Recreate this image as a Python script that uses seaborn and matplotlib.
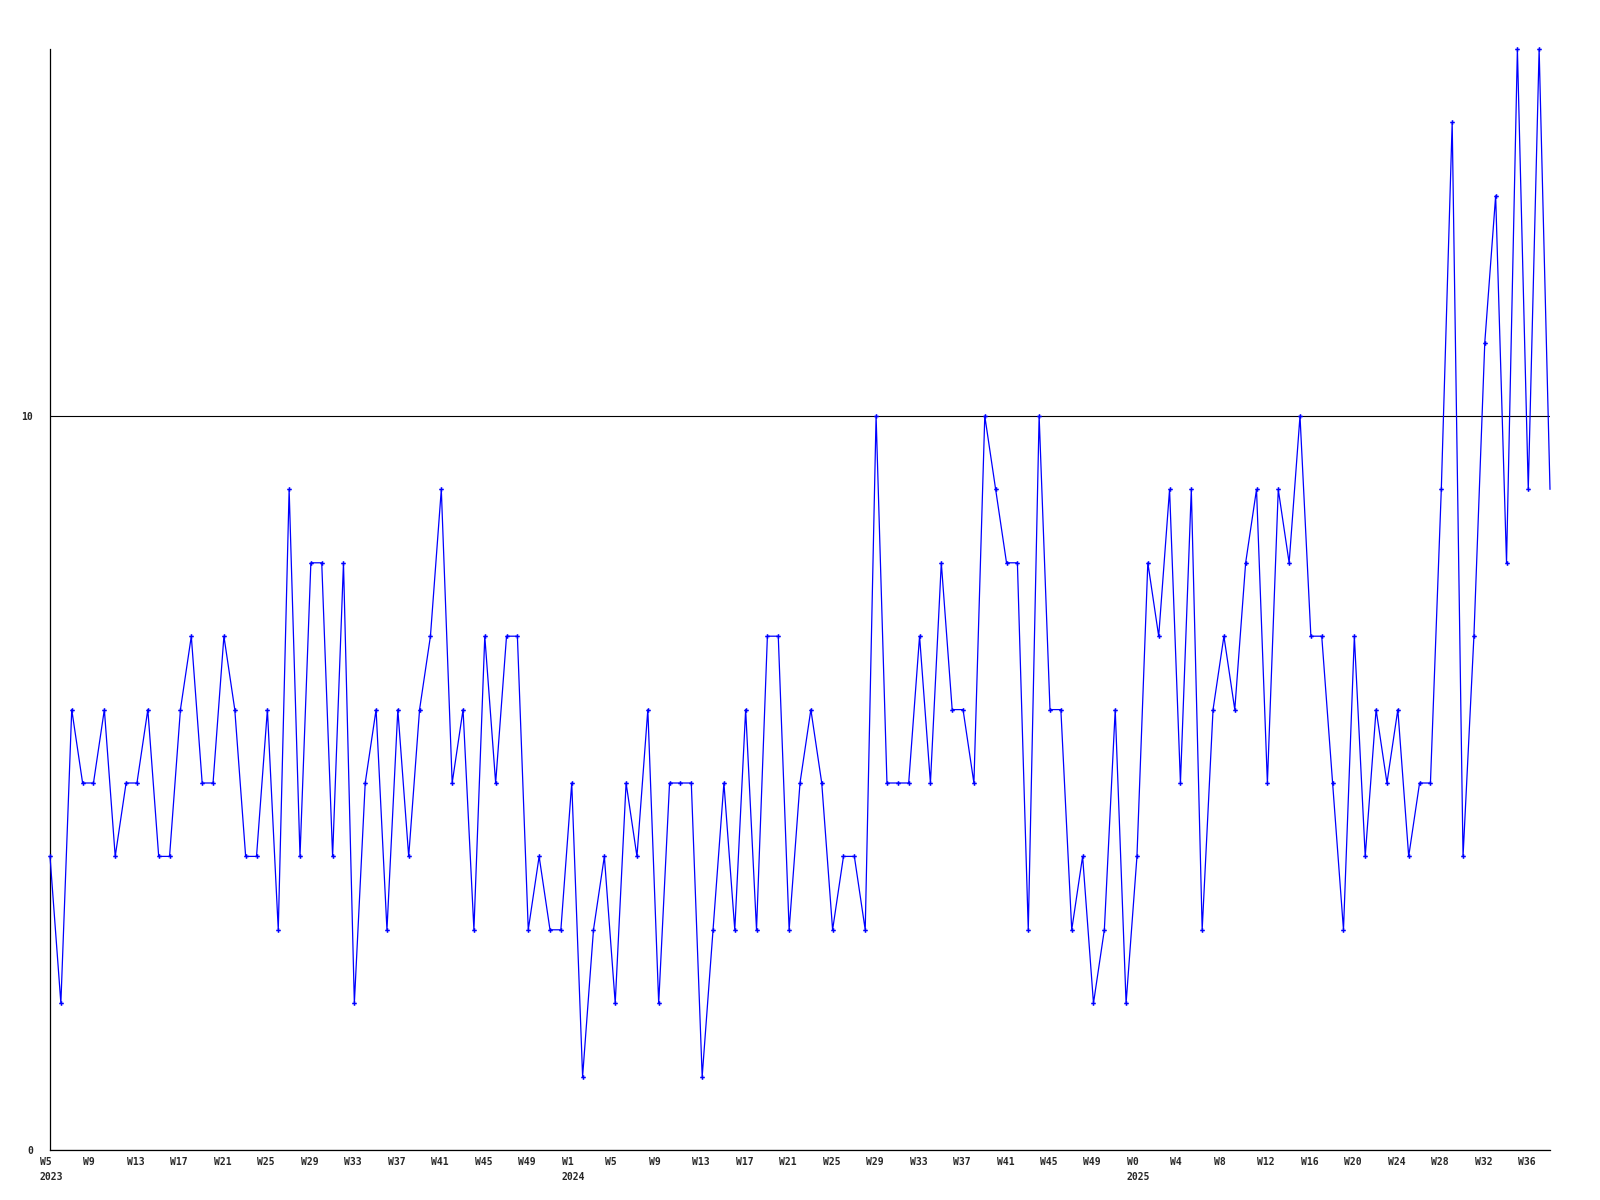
import matplotlib
matplotlib.use("Agg")
import matplotlib.pyplot as plt
import matplotlib.transforms as mtransforms
import seaborn as sns
import pandas as pd
import numpy as np

# ---- data ----
years = [2023] * 48 + [2024] * 52 + [2025] * 39
weeks = list(range(5, 53)) + list(range(1, 53)) + list(range(0, 39))
values = [
    4, 2, 6, 5, 5, 6, 4, 5, 5, 6, 4, 4, 6, 7, 5, 5, 7, 6, 4, 4, 6, 3, 9, 4, 8,
    8, 4, 8, 2, 5, 6, 3, 6, 4, 6, 7, 9, 5, 6, 3, 7, 5, 7, 7, 3, 4, 3, 3, 5,
    1, 3, 4, 2, 5, 4, 6, 2, 5, 5, 5, 1, 3, 5, 3, 6, 3, 7, 7, 3, 5, 6, 5,
    3, 4, 4, 3, 10, 5, 5, 5, 7, 5, 8, 6, 6, 5, 10, 9, 8, 8, 3, 10, 6, 6, 3, 4,
    2, 3, 6, 2, 4, 8, 7, 9, 5, 9, 3, 6, 7, 6, 8, 9, 5, 9, 8, 10, 7, 7, 5, 3,
    7, 4, 6, 5, 6, 4, 5, 5, 9, 14, 4, 7, 11, 13, 8, 15, 9, 15, 9,
]
y_ticks = [0, 10]
tick_step = 4

df = pd.DataFrame({"idx": np.arange(len(values)), "year": years,
                   "week": weeks, "value": values})

# tick labels: every 4th week, year shown under first tick of each year
tick_pos = list(range(0, len(values), tick_step))
tick_lab = []
seen = set()
for p in tick_pos:
    lab = f"W{weeks[p]}"
    if years[p] not in seen:
        seen.add(years[p])
        lab += f"\n{years[p]}"
    tick_lab.append(lab)

sns.set_theme(style="white")
plt.rcParams["font.family"] = ["DejaVu Sans Mono"]

fig = plt.figure(figsize=(16, 12), dpi=100)
ax = fig.add_axes([50 / 1600, 1 - 1150 / 1200, 1500 / 1600, (1150 - 49) / 1200])

sns.lineplot(data=df, x="idx", y="value", ax=ax, color="#0000FF",
             linewidth=0.9, marker="P", markersize=3.3, markeredgewidth=0,
             markevery=slice(0, len(values) - 1), estimator=None,
             clip_on=False, zorder=3)

ax.set_xlim(0, len(values) - 1)
ax.set_ylim(0, 15)
ax.set_xlabel("")
ax.set_ylabel("")

ax.set_yticks(y_ticks)
ax.set_yticklabels([str(v) for v in y_ticks], fontsize=7, fontweight="bold")
ax.set_xticks(tick_pos)
ax.set_xticklabels(tick_lab, fontsize=7, fontweight="bold", linespacing=1.6)

ax.tick_params(axis="both", length=0)
ax.tick_params(axis="y", pad=12)
ax.tick_params(axis="x", pad=5)

offset = mtransforms.ScaledTranslation(-10 / 100, 0, fig.dpi_scale_trans)
for lab in ax.get_xticklabels():
    lab.set_horizontalalignment("left")
    lab.set_verticalalignment("top")
    lab.set_transform(lab.get_transform() + offset)

ax.yaxis.grid(True, color="black", linewidth=0.8)
ax.xaxis.grid(False)

for s in ["top", "right"]:
    ax.spines[s].set_visible(False)
for s in ["left", "bottom"]:
    ax.spines[s].set_color("black")
    ax.spines[s].set_linewidth(0.9)

fig.savefig("out.png", dpi=100, facecolor="white")
